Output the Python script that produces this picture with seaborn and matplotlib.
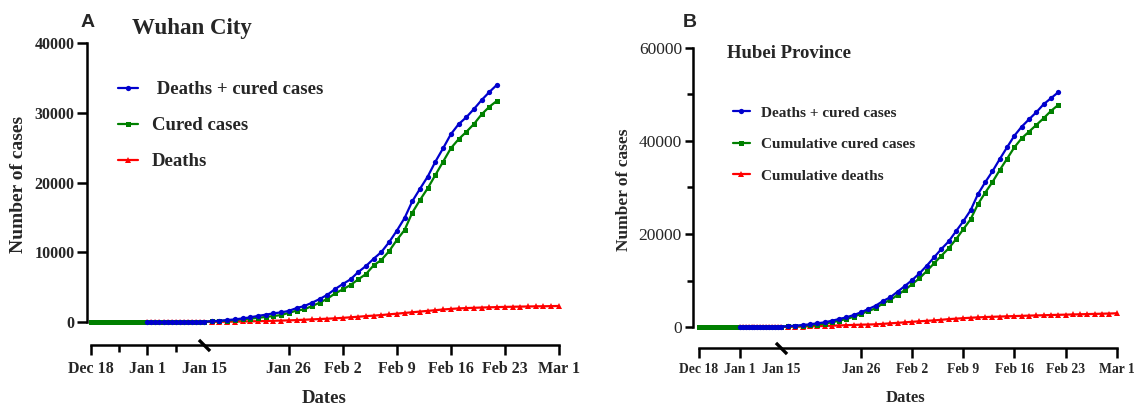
import numpy as np
import pandas as pd
import seaborn as sns
import matplotlib
matplotlib.use('Agg')
from matplotlib import pyplot as plt
from matplotlib import transforms as mtransforms

sns.set_style('ticks')
plt.rcParams['font.family'] = ['Liberation Serif', 'DejaVu Serif']
plt.rcParams['font.weight'] = 'bold'

start = pd.Timestamp('2019-12-18')

tick_dates = ['2019-12-18', '2020-01-01', '2020-01-15', '2020-01-26', '2020-02-02',
              '2020-02-09', '2020-02-16', '2020-02-23', '2020-03-01']
tick_labels = ['Dec 18', 'Jan 1', 'Jan 15', 'Jan 26', 'Feb 2', 'Feb 9', 'Feb 16', 'Feb 23', 'Mar 1']
minor_dates_a = ['2019-12-25', '2020-01-08']

# Wuhan City (A)
wuhan_cured_from = '2019-12-18'
wuhan_cured = [0, 0, 0, 0, 0, 0, 0, 0, 0, 0, 0, 0, 0, 0, 0, 0, 0, 0, 0, 0, 0, 0, 0, 0, 0, 0, 0, 0,
               40, 90, 140, 200, 280, 380, 480, 600, 730, 860, 1000, 1330, 1620, 1820, 2290, 2770, 3340,
               4110, 4690, 5310, 6120, 6880, 8130, 8900, 10160, 11760, 13190, 15670, 17490, 19170,
               21080, 22990, 24910, 26200, 27250, 28390, 29780, 30870, 31730]
wuhan_total_from = '2020-01-01'
wuhan_total = [0, 0, 0, 0, 0, 0, 0, 0, 0, 0, 0, 0, 0, 0,
               60, 120, 190, 280, 380, 520, 670, 880, 1050, 1250, 1380, 1600, 2000, 2290, 2770, 3300, 3910,
               4730, 5450, 6120, 7170, 8030, 9080, 10040, 11450, 13090, 14900, 17300, 19100, 20840,
               22990, 24910, 26920, 28350, 29350, 30540, 31830, 32980, 34030]
wuhan_deaths_from = '2020-01-01'
wuhan_deaths = [0, 0, 0, 0, 0, 0, 0, 0, 0, 0, 0, 0, 0, 0,
                20, 30, 40, 50, 60, 80, 100, 120, 150, 180, 210, 240, 280, 330, 380, 430, 480,
                530, 600, 680, 760, 850, 920, 1000, 1100, 1200, 1300, 1400, 1500, 1600, 1700, 1800,
                1880, 1950, 2000, 2040, 2080, 2110, 2140, 2170, 2190, 2210, 2230, 2250, 2260, 2280,
                2300]

# Hubei Province (B)
hubei_cured_from = '2019-12-18'
hubei_cured = [0, 0, 0, 0, 0, 0, 0, 0, 0, 0, 0, 0, 0, 0, 0, 0, 0, 0, 0, 0, 0, 0, 0, 0, 0, 0, 0, 0,
               60, 120, 170, 220, 360, 500, 720, 1000, 1360, 1720, 2220, 2800, 3440, 4010, 5090, 5800, 6880,
               7950, 9240, 10470, 12040, 13690, 15330, 16920, 18860, 21010, 23160, 26380, 28880, 31180,
               33760, 36190, 38640, 40570, 41990, 43430, 44870, 46440, 47730]
hubei_total_from = '2020-01-01'
hubei_total = [0, 0, 0, 0, 0, 0, 0, 0, 0, 0, 0, 0, 0, 0,
               100, 200, 300, 430, 580, 800, 1000, 1350, 1720, 2090, 2580, 3160, 3870, 4580, 5590, 6390, 7590,
               8820, 10100, 11540, 13180, 14990, 16770, 18400, 20580, 22720, 25090, 28530, 31110, 33480,
               36120, 38640, 41130, 43060, 44650, 46160, 47880, 49170, 50460]
hubei_deaths_from = '2020-01-01'
hubei_deaths = [0, 0, 0, 0, 0, 0, 0, 0, 0, 0, 0, 0, 0, 0,
                20, 40, 70, 100, 140, 180, 230, 280, 340, 400, 450, 500, 540, 580, 680, 790, 900,
                1010, 1120, 1230, 1330, 1430, 1550, 1700, 1800, 1900, 1990, 2070, 2140, 2200, 2250, 2300,
                2350, 2400, 2450, 2490, 2530, 2580, 2620, 2660, 2700, 2740, 2780, 2820, 2860, 2900,
                2950]


def days_of(first, n):
    d = pd.date_range(first, periods=n, freq='D')
    return np.array((d - start).days, dtype=float)


def day_list(dates):
    return np.array((pd.to_datetime(dates) - start).days, dtype=float)


def squeeze_scale(k):
    # Dec 18 - Jan 15 drawn compressed, as in the original
    def fwd(d):
        d = np.asarray(d, dtype=float)
        return np.where(d <= 28, d * k, 28 * k + d - 28)

    def inv(t):
        t = np.asarray(t, dtype=float)
        return np.where(t <= 28 * k, t / k, t - 28 * k + 28)
    return fwd, inv


def draw(ax, cured, cured_from, total, total_from, deaths, deaths_from, labels):
    sns.lineplot(x=days_of(deaths_from, len(deaths)), y=deaths, ax=ax, color='#ff0000', marker='^',
                 markersize=4.5, markeredgewidth=0, linewidth=1.6, label=labels[2], clip_on=False)
    sns.lineplot(x=days_of(cured_from, len(cured)), y=cured, ax=ax, color='#008000', marker='s',
                 markersize=3.6, markeredgewidth=0, linewidth=1.6, label=labels[1], clip_on=False)
    sns.lineplot(x=days_of(total_from, len(total)), y=total, ax=ax, color='#0000cd', marker='o',
                 markersize=3.8, markeredgewidth=0, linewidth=1.6, label=labels[0], clip_on=False)


fig = plt.figure(figsize=(11.37, 4.09), dpi=100)
ax_a = fig.add_axes([0.0765, 0.2024, 0.4170, 0.6924])
ax_b = fig.add_axes([0.6095, 0.1902, 0.3745, 0.6927])

draw(ax_a, wuhan_cured, wuhan_cured_from, wuhan_total, wuhan_total_from, wuhan_deaths, wuhan_deaths_from,
     [' Deaths + cured cases', 'Cured cases', 'Deaths'])
draw(ax_b, hubei_cured, hubei_cured_from, hubei_total, hubei_total_from, hubei_deaths, hubei_deaths_from,
     ['Deaths + cured cases', 'Cumulative cured cases', 'Cumulative deaths'])

ticks = day_list(tick_dates)

for ax, k, xlo, ymax, outward, tick_fs, lab_fs in [(ax_a, 0.525, -0.9, 40000, 13.7, 11.5, 13.5),
                                                     (ax_b, 0.4, -2.05, 60000, 12.2, 9.8, 12)]:
    ax.set_xscale('function', functions=squeeze_scale(k))
    ax.set_xticks(ticks)
    ax.set_xticklabels(tick_labels)
    ax.spines['top'].set_visible(False)
    ax.spines['right'].set_visible(False)
    ax.spines['bottom'].set_position(('outward', outward))
    ax.spines['bottom'].set_bounds(ticks[0], ticks[-1])
    ax.spines['left'].set_bounds(0, ymax)
    for s in ['left', 'bottom']:
        ax.spines[s].set_linewidth(1.8)
        ax.spines[s].set_color('black')
    ax.tick_params(axis='x', which='major', length=7, width=1.8, pad=4, labelsize=tick_fs, color='black')
    ax.tick_params(axis='y', which='both', width=1.8, color='black')
    ax.xaxis.get_major_ticks()[2].tick1line.set_visible(False)
    ax.set_xlabel('Dates', fontsize=lab_fs, fontweight='bold', labelpad=10)
    ax.set_ylabel('Number of cases', fontsize=lab_fs + 0.5, fontweight='bold')

    # axis break mark at Jan 15
    trans = ax.get_xaxis_transform() + mtransforms.ScaledTranslation(0, -outward / 72, fig.dpi_scale_trans)
    ax.plot([ticks[2]], [0], transform=trans, marker=[(-1, 1), (1, -1)], markersize=8,
            markeredgewidth=2.4, color='black', clip_on=False, linestyle='none')

ax_a.set_xticks(day_list(minor_dates_a), minor=True)
ax_a.tick_params(axis='x', which='minor', length=5, width=1.8, color='black')
ax_a.set_yticks([0, 10000, 20000, 30000, 40000])
ax_a.tick_params(axis='y', which='major', length=7, pad=2, labelsize=11.5)
ax_a.set_ylim(-600, 40000)
ax_a.set_xlim(-0.9, 74.3)
ax_a.yaxis.labelpad = 5

ax_b.set_yticks([0, 20000, 40000, 60000])
ax_b.set_yticks([10000, 30000, 50000], minor=True)
ax_b.tick_params(axis='y', which='major', length=6, pad=2, labelsize=12.5)
ax_b.tick_params(axis='y', which='minor', length=4)
for lbl in ax_b.get_yticklabels():
    lbl.set_fontweight('normal')
ax_b.set_ylim(-900, 60000)
ax_b.set_xlim(-2.05, 74.3)
ax_b.yaxis.labelpad = 5

# legends, order: total, cured, deaths
h, l = ax_a.get_legend_handles_labels()
ax_a.legend(h[::-1], l[::-1], frameon=False, loc='upper left', bbox_to_anchor=(0.065, 0.865),
            borderaxespad=0, borderpad=0, handlelength=1.1, handletextpad=0.7, labelspacing=1.0,
            prop={'family': 'Liberation Serif', 'weight': 'bold', 'size': 13.5})
h, l = ax_b.get_legend_handles_labels()
ax_b.legend(h[::-1], l[::-1], frameon=False, loc='upper left', bbox_to_anchor=(0.094, 0.795),
            borderaxespad=0, borderpad=0, handlelength=1.1, handletextpad=0.7, labelspacing=1.16,
            prop={'family': 'Liberation Serif', 'weight': 'bold', 'size': 11})

fig.text(0.0774, 0.946, 'A', fontsize=14, fontweight='bold', family='Liberation Sans', ha='center', va='center')
fig.text(0.607, 0.946, 'B', fontsize=14, fontweight='bold', family='Liberation Sans', ha='center', va='center')
fig.text(0.116, 0.9315, 'Wuhan City', fontsize=16.5, fontweight='bold', ha='left', va='center')
fig.text(0.639, 0.868, 'Hubei Province', fontsize=13.5, fontweight='bold', ha='left', va='center')

fig.savefig('out.png', dpi=100)
